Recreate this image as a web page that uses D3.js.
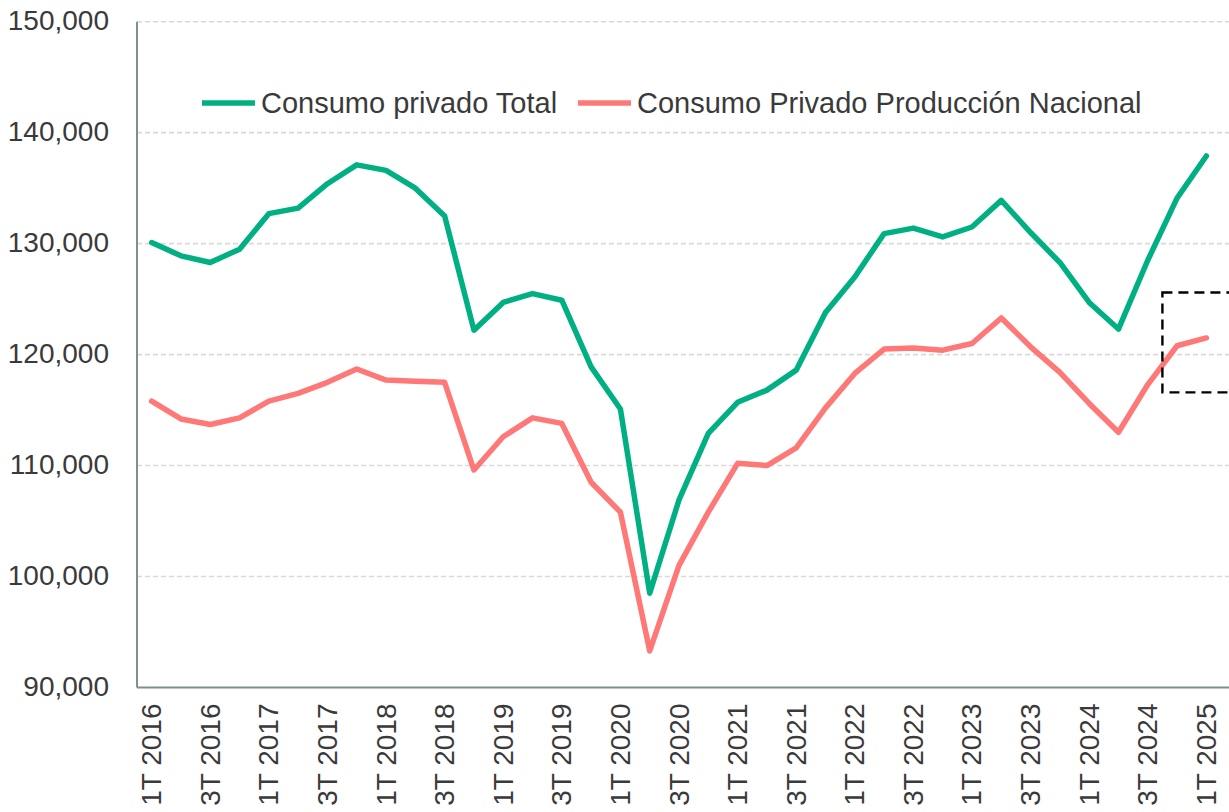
<!DOCTYPE html>
<html>
<head>
<meta charset="utf-8">
<script src="https://cdn.jsdelivr.net/npm/d3@7"></script>
<style>
  html, body { margin: 0; padding: 0; background: #fff; }
  svg { display: block; }
  text { font-family: "Liberation Sans", Arial, sans-serif; fill: #3a3a3a; }
</style>
</head>
<body>
<svg id="chart" width="1229" height="812"></svg>
<script>
const quarters = [
  "1T 2016","2T 2016","3T 2016","4T 2016",
  "1T 2017","2T 2017","3T 2017","4T 2017",
  "1T 2018","2T 2018","3T 2018","4T 2018",
  "1T 2019","2T 2019","3T 2019","4T 2019",
  "1T 2020","2T 2020","3T 2020","4T 2020",
  "1T 2021","2T 2021","3T 2021","4T 2021",
  "1T 2022","2T 2022","3T 2022","4T 2022",
  "1T 2023","2T 2023","3T 2023","4T 2023",
  "1T 2024","2T 2024","3T 2024","4T 2024",
  "1T 2025"
];
const consumoTotal = [
  130100,128900,128300,129500,
  132700,133200,135400,137100,
  136600,135000,132500,122200,
  124700,125500,124900,118900,
  115100,98500,106900,112900,
  115700,116800,118600,123800,
  127000,130900,131400,130600,
  131500,133900,131000,128300,
  124700,122300,128500,134100,
  137900
];
const consumoNacional = [
  115800,114200,113700,114300,
  115800,116500,117500,118700,
  117700,117600,117500,109600,
  112600,114300,113800,108500,
  105800,93300,101000,105800,
  110200,110000,111600,115200,
  118300,120500,120600,120400,
  121000,123300,120700,118400,
  115600,113000,117300,120800,
  121500
];
const seriesNames = ["Consumo privado Total", "Consumo Privado Producción Nacional"];
const seriesColors = ["#00b083", "#ff7878"];
const yTicks = [90000, 100000, 110000, 120000, 130000, 140000, 150000];
// highlighted region (annotation box): starts between 3T 2024 and 4T 2024, value range
const boxRange = [116600, 125600];

(function () {
const svg = d3.select("#chart");
const W = 1229;
const mLeft = 137, mRight = 1221, mTop = 21.7, mBottom = 687.5;

const xb = d3.scaleBand().domain(quarters).range([mLeft, mRight]).padding(0);
const x = d => xb(d) + xb.bandwidth() / 2;
const y = d3.scaleLinear().domain([90000, 150000]).range([mBottom, mTop]);

// gridlines
svg.append("g").selectAll("line").data(yTicks.filter(t => t > 90000)).join("line")
  .attr("x1", mLeft).attr("x2", W)
  .attr("y1", d => y(d)).attr("y2", d => y(d))
  .attr("stroke", "#d9d9d9").attr("stroke-width", 1.6)
  .attr("stroke-dasharray", "5,3");

// y labels
const fmt = d3.format(",");
svg.append("g").selectAll("text").data(yTicks).join("text")
  .attr("x", 109).attr("y", d => y(d) - 1)
  .attr("text-anchor", "end").attr("dominant-baseline", "central")
  .style("font-size", "28px")
  .text(d => fmt(d));

// axes lines
svg.append("line").attr("x1", mLeft).attr("x2", mLeft).attr("y1", mTop).attr("y2", mBottom)
  .attr("stroke", "#7d928e").attr("stroke-width", 2);
svg.append("line").attr("x1", mLeft).attr("x2", W).attr("y1", mBottom).attr("y2", mBottom)
  .attr("stroke", "#7d928e").attr("stroke-width", 2);

// x labels (every other quarter)
svg.append("g").selectAll("text").data(quarters.filter((q, i) => i % 2 === 0)).join("text")
  .attr("transform", d => `translate(${x(d)},${mBottom + 16}) rotate(-90)`)
  .attr("text-anchor", "end").attr("dominant-baseline", "central")
  .style("font-size", "28px")
  .text(d => d);

// lines
const line = d3.line().x((d, i) => x(quarters[i])).y(d => y(d));
[consumoTotal, consumoNacional].forEach((s, k) => {
  svg.append("path").datum(s)
    .attr("d", line)
    .attr("fill", "none")
    .attr("stroke", seriesColors[k])
    .attr("stroke-width", 5.5)
    .attr("stroke-linejoin", "round")
    .attr("stroke-linecap", "round");
});

// dashed annotation box
const bx = (x(quarters[34]) + x(quarters[35])) / 2;
svg.append("rect")
  .attr("x", bx).attr("y", y(boxRange[1]))
  .attr("width", W + 20 - bx).attr("height", y(boxRange[0]) - y(boxRange[1]))
  .attr("fill", "none").attr("stroke", "#000").attr("stroke-width", 2.4)
  .attr("stroke-dasharray", "10,6");

// legend
const legendX = [202, 578];
const legendY = 103;
seriesNames.forEach((n, k) => {
  svg.append("line")
    .attr("x1", legendX[k]).attr("x2", legendX[k] + 53)
    .attr("y1", legendY).attr("y2", legendY)
    .attr("stroke", seriesColors[k]).attr("stroke-width", 5.5);
  svg.append("text")
    .attr("x", legendX[k] + 59).attr("y", legendY)
    .attr("dominant-baseline", "central")
    .style("font-size", "29px")
    .text(n);
});
})();
</script>
</body>
</html>
